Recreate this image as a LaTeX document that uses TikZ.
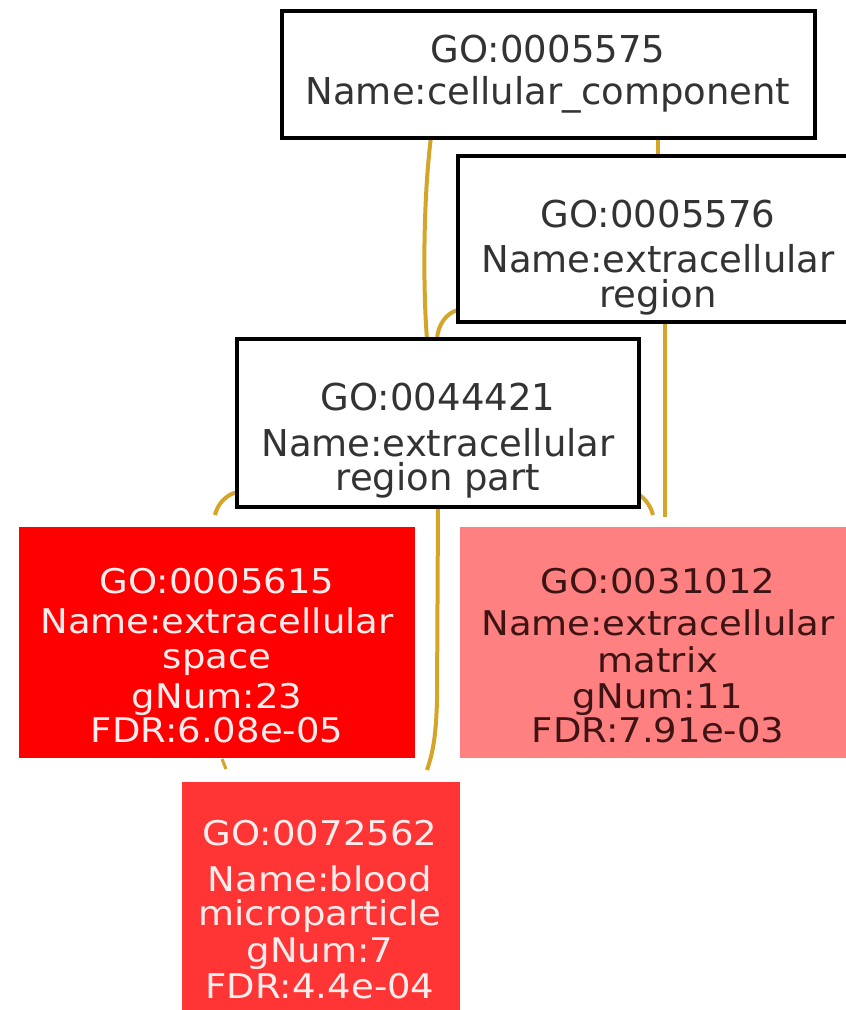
\documentclass[tikz,border=0pt]{standalone}
\usepackage{fontspec}
\usepackage{graphicx}
\setmainfont{DejaVu Sans}
\definecolor{edgecol}{RGB}{212,165,40}
\definecolor{darktxt}{RGB}{51,51,51}
\definecolor{pinktxt}{RGB}{60,20,20}
\definecolor{lighttxt}{RGB}{255,236,236}
\definecolor{fillA}{RGB}{255,0,0}
\definecolor{fillB}{RGB}{255,128,128}
\definecolor{fillC}{RGB}{255,52,52}
\newcommand{\vsq}[1]{\scalebox{1}[0.92]{#1}}
\tikzset{
  wbox/.style={draw=black, line width=3.5pt, fill=white, inner sep=0pt, rectangle},
  cbox/.style={draw=none, inner sep=0pt, rectangle},
  lbl/.style={anchor=base, inner sep=0pt, font=\fontsize{37}{37}\selectfont},
  link/.style={draw=edgecol, line width=4pt},
}
\begin{document}
\begin{tikzpicture}[x=1pt, y=-1pt]
\clip (0,0) rectangle (846,1010);
\fill[white] (0,0) rectangle (846,1010);

% edges (drawn first, behind boxes)
\coordinate (e1a) at (431,137);
\coordinate (e1b) at (427,339);
\coordinate (e2a) at (658,137);
\coordinate (e2b) at (658,156);
\coordinate (e3a) at (458,310);
\coordinate (e3b) at (437,339);
\coordinate (e4a) at (665,322);
\coordinate (e4b) at (665,517);
\coordinate (e5a) at (638,494);
\coordinate (e5b) at (653,515);
\coordinate (e6a) at (238,492);
\coordinate (e6b) at (215,515);
\coordinate (e7a) at (438,507);
\coordinate (e7m) at (437,700);
\coordinate (e7b) at (427,770);
\coordinate (e8a) at (222,759);
\coordinate (e8b) at (226,769);

\draw[link] (e1a) .. controls (423,200) and (423,290) .. (e1b);
\draw[link] (e2a) -- (e2b);
\draw[link] (e3a) .. controls (446,313) and (438,325) .. (e3b);
\draw[link] (e4a) -- (e4b);
\draw[link] (e5a) .. controls (646,499) and (651,507) .. (e5b);
\draw[link] (e6a) .. controls (226,494) and (217,505) .. (e6b);
\draw[link] (e7a) -- (e7m) .. controls (436,740) and (432,755) .. (e7b);
\draw[link, line width=3pt] (e8a) -- (e8b);

% boxes
\node[wbox, minimum width=533pt, minimum height=127pt] (b1) at (548.5,74.5) {};
\node[wbox, minimum width=412pt, minimum height=166pt] (b2) at (664,239) {};
\node[wbox, minimum width=402pt, minimum height=168pt] (b3) at (438,423) {};
\node[cbox, fill=fillA, minimum width=396pt, minimum height=231pt] (b4) at (217,642.5) {};
\node[cbox, fill=fillB, minimum width=410pt, minimum height=231pt] (b5) at (665,642.5) {};
\node[cbox, fill=fillC, minimum width=278pt, minimum height=258pt] (b6) at (321,911) {};

% texts
\node[lbl, text=darktxt] (t11) at (548,62) {GO:0005575};
\node[lbl, text=darktxt] (t12) at (548,104) {Name:cellular\_component};

\node[lbl, text=darktxt] (t21) at (658,227) {GO:0005576};
\node[lbl, text=darktxt] (t22) at (658,272) {Name:extracellular};
\node[lbl, text=darktxt] (t23) at (658,307) {region};

\node[lbl, text=darktxt] (t31) at (438,410) {GO:0044421};
\node[lbl, text=darktxt] (t32) at (438,456) {Name:extracellular};
\node[lbl, text=darktxt] (t33) at (438,490) {region part};

\node[lbl, text=lighttxt] (t41) at (217,593) {\vsq{GO:0005615}};
\node[lbl, text=lighttxt] (t42) at (217,633) {\vsq{Name:extracellular}};
\node[lbl, text=lighttxt] (t43) at (217,668) {\vsq{space}};
\node[lbl, text=lighttxt] (t44) at (217,708) {\vsq{gNum:23}};
\node[lbl, text=lighttxt] (t45) at (217,742) {\vsq{FDR:6.08e-05}};

\node[lbl, text=pinktxt] (t51) at (658,593) {\vsq{GO:0031012}};
\node[lbl, text=pinktxt] (t52) at (658,635) {\vsq{Name:extracellular}};
\node[lbl, text=pinktxt] (t53) at (658,672) {\vsq{matrix}};
\node[lbl, text=pinktxt] (t54) at (658,708) {\vsq{gNum:11}};
\node[lbl, text=pinktxt] (t55) at (658,742) {\vsq{FDR:7.91e-03}};

\node[lbl, text=lighttxt] (t61) at (320,845) {\vsq{GO:0072562}};
\node[lbl, text=lighttxt] (t62) at (320,891) {\vsq{Name:blood}};
\node[lbl, text=lighttxt] (t63) at (320,925) {\vsq{microparticle}};
\node[lbl, text=lighttxt] (t64) at (320,962) {\vsq{gNum:7}};
\node[lbl, text=lighttxt] (t65) at (320,998) {\vsq{FDR:4.4e-04}};
\end{tikzpicture}
\end{document}
